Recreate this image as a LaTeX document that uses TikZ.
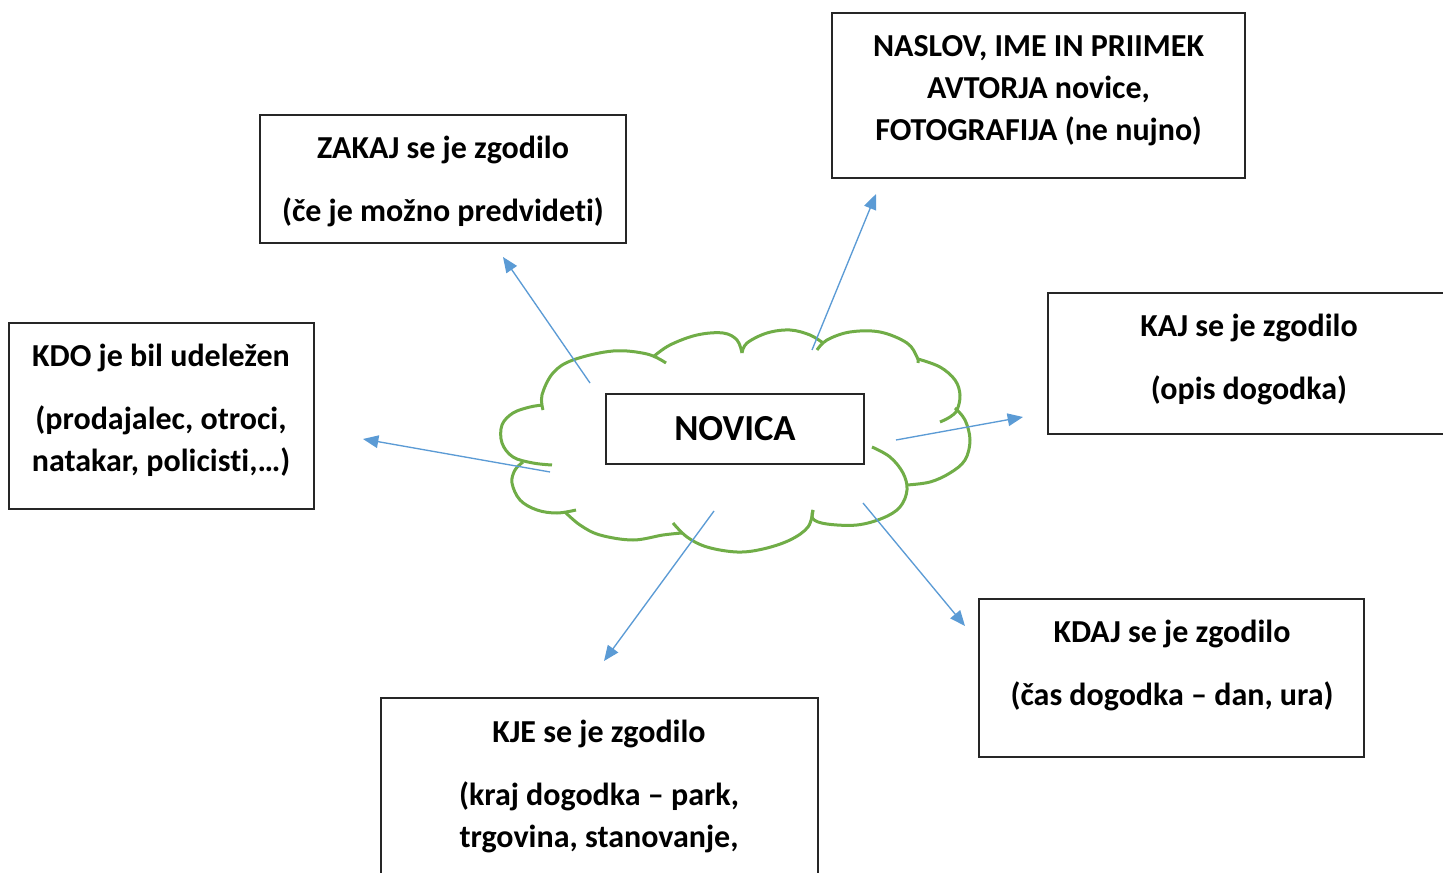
\documentclass[tikz,border=0pt]{standalone}
\usepackage{fontspec}
\setmainfont{Carlito}[Ligatures={NoCommon,NoContextual}]
\usetikzlibrary{arrows.meta}
\newlength\upx \setlength\upx{0.75pt}
\definecolor{cgreen}{HTML}{70AD47}
\definecolor{cblue}{HTML}{5B9BD5}
\definecolor{cframe}{HTML}{262626}
\begin{document}
\begin{tikzpicture}[x=0.75pt,y=0.75pt,
 box/.style={draw=cframe, line width=1pt, inner sep=0pt, outer sep=0pt, fill=white},
 txt/.style={font=\fontsize{24}{30}\selectfont\bfseries, anchor=base, inner sep=0pt},
 big/.style={font=\fontsize{27.5}{33}\selectfont\bfseries, anchor=base, inner sep=0pt},
 puff/.style={draw=cgreen, line width=2.25pt},
 arr/.style={draw=cblue, line width=1pt, -{Triangle[length=11.5pt,width=9.5pt]}}]
\useasboundingbox (0,0) rectangle (1443,-873);
\clip (0,0) rectangle (1443,-873);
\fill[white] (0,0) rectangle (1443,-873);

% cloud
\draw[puff] plot[smooth,tension=0.6] coordinates {(543,-410) (542,-395) (553,-373) (573,-360) (613,-351) (647,-354) (666,-363)};
\draw[puff] plot[smooth,tension=0.6] coordinates {(653,-357) (670,-345) (697,-335) (723,-333) (737,-340) (742,-353)};
\draw[puff] plot[smooth,tension=0.6] coordinates {(742,-353) (747,-343) (767,-333) (790,-330) (810,-335) (823,-343)};
\draw[puff] plot[smooth,tension=0.6] coordinates {(817,-350) (827,-340) (850,-332) (880,-332) (907,-343) (917,-357) (918,-363)};
\draw[puff] plot[smooth,tension=0.6] coordinates {(918,-359) (940,-367) (955,-380) (960,-395) (957,-410) (950,-417) (940,-422)};
\draw[puff] plot[smooth,tension=0.6] coordinates {(955,-408) (965,-420) (970,-440) (965,-460) (950,-473) (930,-482) (907,-485)};
\draw[puff] plot[smooth,tension=0.6] coordinates {(872,-447) (890,-457) (903,-473) (907,-490) (900,-507) (883,-518) (857,-525) (827,-524) (813,-519) (813,-510)};
\draw[puff] plot[smooth,tension=0.6] coordinates {(813,-510) (808,-527) (790,-540) (763,-549) (737,-552) (707,-547) (687,-537) (673,-523)};
\draw[puff] plot[smooth,tension=0.6] coordinates {(682,-533) (663,-535) (633,-540) (600,-535) (580,-525) (565,-512)};
\draw[puff] plot[smooth,tension=0.6] coordinates {(576,-510) (557,-513) (537,-510) (520,-500) (512,-483) (515,-470) (523,-462)};
\draw[puff] plot[smooth,tension=0.6] coordinates {(552,-465) (533,-463) (513,-457) (502,-443) (502,-425) (513,-413) (530,-407) (543,-405)};

% boxes
\node[box, minimum width=413\upx, minimum height=165\upx] (naslov) at (1038.5,-95.5) {};
\node[box, minimum width=366\upx, minimum height=128\upx] (zakaj) at (443,-179) {};
\node[box, minimum width=305\upx, minimum height=186\upx] (kdo) at (161.5,-416) {};
\node[box, minimum width=404\upx, minimum height=141\upx] (kaj) at (1250,-363.5) {};
\node[box, minimum width=258\upx, minimum height=70\upx] (novica) at (735,-429) {};
\node[box, minimum width=385\upx, minimum height=158\upx] (kdaj) at (1171.5,-678) {};
\node[box, minimum width=437\upx, minimum height=252\upx] (kje) at (599.5,-824) {};

% texts
\node[txt] (naslovA) at (1038.5,-57) {NASLOV, IME IN PRIIMEK};
\node[txt] (naslovB) at (1038.5,-99) {AVTORJA novice,};
\node[txt] (naslovC) at (1038.5,-141) {FOTOGRAFIJA (ne nujno)};
\node[txt] (zakajA) at (443,-159) {ZAKAJ se je zgodilo};
\node[txt] (zakajB) at (443,-222) {(če je možno predvideti)};
\node[txt] (kdoA) at (161,-367) {KDO je bil udeležen};
\node[txt] (kdoB) at (161,-430) {(prodajalec, otroci,};
\node[txt] (kdoC) at (161,-472) {natakar, policisti,…)};
\node[txt] (kajA) at (1249,-337) {KAJ se je zgodilo};
\node[txt] (kajB) at (1249,-400) {(opis dogodka)};
\node[big] (novicaT) at (735,-441) {NOVICA};
\node[txt] (kdajA) at (1172,-642) {KDAJ se je zgodilo};
\node[txt] (kdajB) at (1172,-705) {(čas dogodka – dan, ura)};
\node[txt] (kjeA) at (599,-742) {KJE se je zgodilo};
\node[txt] (kjeB) at (599,-805) {(kraj dogodka – park,};
\node[txt] (kjeC) at (599,-847) {trgovina, stanovanje,};

% arrows
\coordinate (s1) at (590,-383); \coordinate (e1) at (503,-257);
\coordinate (s2) at (812,-350); \coordinate (e2) at (876,-194);
\coordinate (s3) at (896,-440); \coordinate (e3) at (1023,-417);
\coordinate (s4) at (550,-472); \coordinate (e4) at (363,-439);
\coordinate (s5) at (863,-503); \coordinate (e5) at (965,-626);
\coordinate (s6) at (714,-511); \coordinate (e6) at (604,-661);
\draw[arr] (s1) -- (e1);
\draw[arr] (s2) -- (e2);
\draw[arr] (s3) -- (e3);
\draw[arr] (s4) -- (e4);
\draw[arr] (s5) -- (e5);
\draw[arr] (s6) -- (e6);
\end{tikzpicture}
\end{document}
